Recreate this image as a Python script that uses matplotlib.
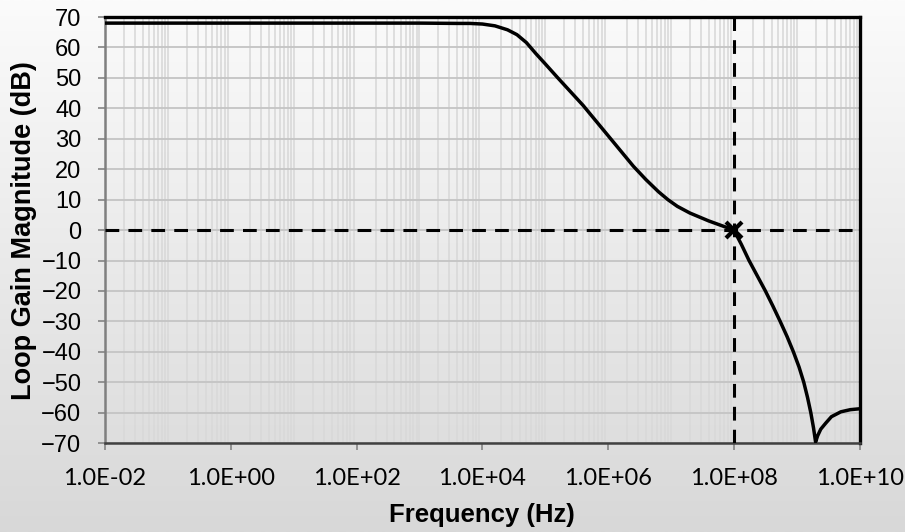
import numpy as np
import matplotlib
matplotlib.use("Agg")
import matplotlib.pyplot as plt
from matplotlib.ticker import FixedLocator, NullFormatter

# loop gain magnitude (log10 of frequency, dB)
log_freq = [-2.0, 0.0, 2.0, 3.0, 3.6, 3.8, 4.0, 4.2, 4.4, 4.55, 4.7,
            4.85, 5.0, 5.2, 5.4, 5.6, 5.8, 6.0, 6.2, 6.4, 6.6, 6.8, 6.95,
            7.1, 7.3, 7.45, 7.6, 7.8, 8.0, 8.12, 8.24, 8.37, 8.5, 8.62,
            8.735, 8.845, 8.945, 9.035, 9.11, 9.17, 9.222, 9.265, 9.298,
            9.33, 9.38, 9.46, 9.55, 9.7, 9.85, 10.0]
gain_db = [68.0, 68.0, 68.0, 68.0, 67.9, 67.9, 67.7, 67.1, 65.8, 64.2,
           61.6, 58.0, 54.6, 50.0, 45.5, 41.0, 36.0, 31.0, 26.0, 21.0,
           16.6, 12.6, 10.0, 7.8, 5.6, 4.3, 3.0, 1.5, 0.0, -4.8, -10.0,
           -15.0, -20.0, -25.0, -30.0, -35.0, -40.0, -45.0, -50.0, -55.0,
           -60.0, -65.0, -69.6, -67.6, -65.4, -63.4, -61.3, -59.7, -59.0,
           -58.7]

crossover_freq = 1.0e8
crossover_db = 0.0

x_ticks = [1e-2, 1e0, 1e2, 1e4, 1e6, 1e8, 1e10]
x_tick_labels = ["1.0E-02", "1.0E+00", "1.0E+02", "1.0E+04",
                 "1.0E+06", "1.0E+08", "1.0E+10"]
y_ticks = list(range(-70, 71, 10))

freq = 10.0 ** np.array(log_freq)

fig = plt.figure(figsize=(9.05, 5.32), dpi=100)

# grey gradient behind everything
bg = fig.add_axes([0, 0, 1, 1], zorder=-10)
grad = np.linspace(0, 1, 256).reshape(-1, 1)
bg.imshow(grad, aspect="auto", cmap=matplotlib.colors.LinearSegmentedColormap.from_list(
    "bg", ["#fbfbfb", "#d8d8d8"]), extent=[0, 1, 0, 1], origin="upper")
bg.axis("off")

ax = fig.add_axes([0.116, 0.167, 0.834, 0.801])
ax.set_facecolor("none")
ax.set_xscale("log")
ax.set_xlim(1e-2, 1e10)
ax.set_ylim(-70, 70)

# grid lines: every decade plus 2..9 in between
minor_x = [m * 10.0 ** d for d in range(-2, 10) for m in range(1, 10)] + [1e10]
ax.xaxis.set_minor_locator(FixedLocator(minor_x))
ax.xaxis.set_minor_formatter(NullFormatter())
ax.xaxis.set_major_locator(FixedLocator(x_ticks))
ax.set_xticklabels(x_tick_labels)
ax.set_yticks(y_ticks)
ax.grid(True, which="minor", axis="x", color="#d9d9d9", linewidth=1.2)
ax.grid(True, which="major", axis="y", color="#c4c4c4", linewidth=1.3)
ax.set_axisbelow(True)

ax.tick_params(axis="x", which="minor", length=0)
ax.tick_params(axis="both", which="major", direction="out", length=5,
               width=1.3, color="#8c8c8c")
ax.tick_params(axis="x", pad=13)
ax.tick_params(axis="y", pad=12)

for lbl in ax.get_xticklabels():
    lbl.set_family("Lato")
    lbl.set_fontsize(17)
for lbl in ax.get_yticklabels():
    lbl.set_family("Liberation Sans")
    lbl.set_fontsize(17)

for side in ["top", "right"]:
    ax.spines[side].set_color("black")
    ax.spines[side].set_linewidth(2.4)
ax.spines["left"].set_color("#7f7f7f")
ax.spines["left"].set_linewidth(1.8)
ax.spines["bottom"].set_color("#404040")
ax.spines["bottom"].set_linewidth(1.8)

# dashed crossover guides
ax.axhline(crossover_db, color="black", linewidth=2.2, linestyle=(0, (4.5, 3)), zorder=3)
ax.axvline(crossover_freq, color="black", linewidth=2.2, linestyle=(0, (4.5, 3)), zorder=3)

ax.plot(freq, gain_db, color="black", linewidth=2.5, zorder=4)
ax.plot([crossover_freq], [crossover_db], marker="x", markersize=11,
        markeredgewidth=3, color="black", zorder=5)

ax.set_xlabel("Frequency (Hz)", fontsize=18.5, fontweight="bold",
              family="Liberation Sans")
ax.xaxis.set_label_coords(0.5, -0.141)
ax.set_ylabel("Loop Gain Magnitude (dB)", fontsize=19.5, fontweight="bold",
              family="Liberation Sans")
ax.yaxis.set_label_coords(-0.0905, 0.5)

fig.savefig("out.png", dpi=100)
